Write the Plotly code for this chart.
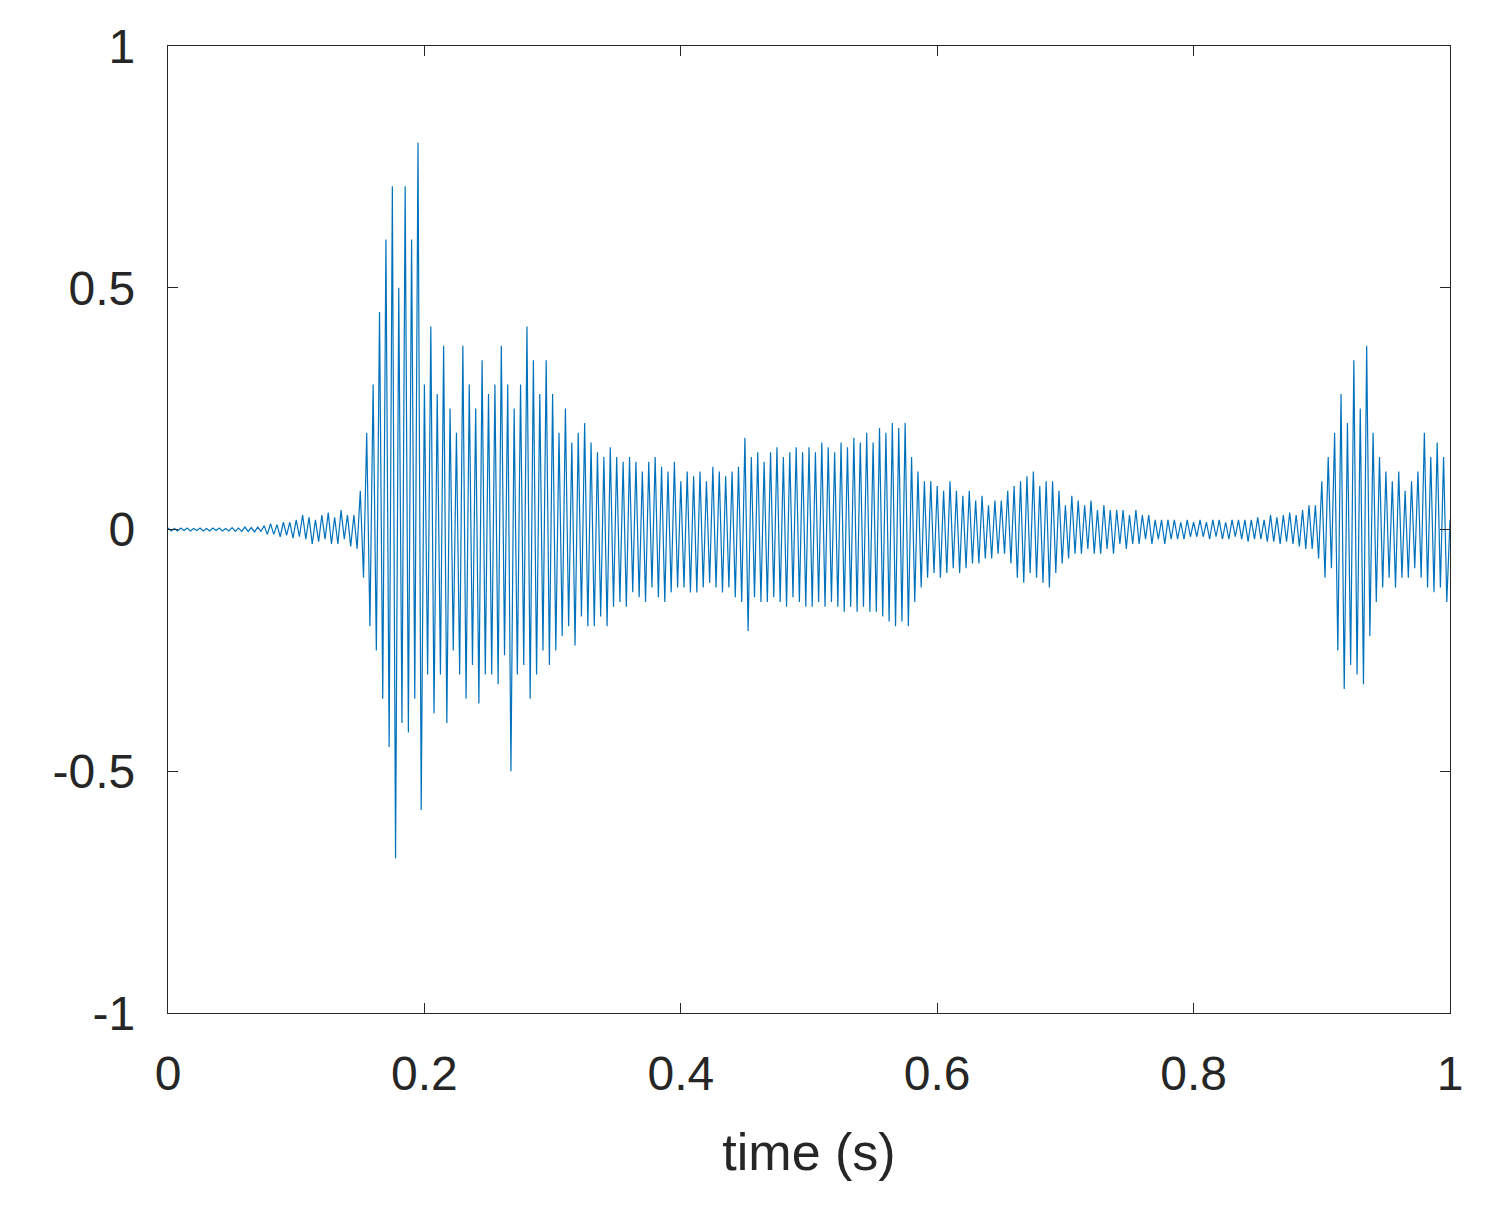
import plotly.graph_objects as go

step = 0.0025
rows = [
[0.003,-0.003,0.002,-0.003,0.003,-0.002,0.003,-0.003,0.002,-0.002,0.003,-0.003,0.002,-0.003,0.003,-0.002,0.003,-0.003,0.002,-0.003],
[0.004,-0.004,0.003,-0.004,0.005,-0.004,0.004,-0.005,0.005,-0.004,0.008,-0.01,0.012,-0.01,0.01,-0.015,0.015,-0.012,0.015,-0.018],
[0.02,-0.015,0.03,-0.02,0.025,-0.03,0.02,-0.025,0.03,-0.02,0.035,-0.03,0.025,-0.03,0.04,-0.02,0.03,-0.035,0.03,-0.04],
[0.08,-0.1,0.2,-0.2,0.3,-0.25,0.45,-0.35,0.6,-0.45,0.71,-0.68,0.5,-0.4,0.71,-0.42,0.6,-0.35,0.8,-0.58],
[0.3,-0.3,0.42,-0.38,0.28,-0.3,0.38,-0.4,0.25,-0.25,0.2,-0.3,0.38,-0.35,0.3,-0.28,0.25,-0.36,0.35,-0.3],
[0.28,-0.3,0.3,-0.32,0.38,-0.26,0.3,-0.5,0.25,-0.3,0.3,-0.28,0.42,-0.35,0.35,-0.3,0.28,-0.25,0.35,-0.28],
[0.28,-0.25,0.2,-0.22,0.25,-0.2,0.18,-0.24,0.2,-0.18,0.22,-0.2,0.18,-0.2,0.16,-0.18,0.15,-0.2,0.17,-0.16],
[0.15,-0.15,0.14,-0.16,0.15,-0.13,0.14,-0.14,0.12,-0.15,0.14,-0.12,0.15,-0.14,0.13,-0.15,0.12,-0.13,0.14,-0.12],
[0.1,-0.12,0.12,-0.13,0.11,-0.13,0.12,-0.12,0.1,-0.11,0.13,-0.12,0.12,-0.13,0.11,-0.12,0.12,-0.14,0.13,-0.15],
[0.19,-0.21,0.15,-0.14,0.16,-0.15,0.14,-0.15,0.16,-0.14,0.17,-0.15,0.15,-0.16,0.16,-0.14,0.17,-0.15,0.16,-0.16],
[0.17,-0.16,0.16,-0.15,0.18,-0.16,0.17,-0.15,0.16,-0.16,0.18,-0.17,0.17,-0.16,0.19,-0.17,0.18,-0.16,0.2,-0.17],
[0.18,-0.17,0.21,-0.18,0.2,-0.19,0.22,-0.2,0.21,-0.19,0.22,-0.2,0.15,-0.15,0.12,-0.12,0.1,-0.1,0.1,-0.09],
[0.09,-0.1,0.08,-0.09,0.1,-0.08,0.08,-0.09,0.07,-0.08,0.08,-0.07,0.06,-0.07,0.07,-0.06,0.05,-0.06,0.06,-0.05],
[0.06,-0.05,0.08,-0.07,0.09,-0.1,0.1,-0.11,0.11,-0.09,0.12,-0.1,0.09,-0.11,0.1,-0.12,0.1,-0.09,0.08,-0.07],
[0.05,-0.06,0.07,-0.05,0.06,-0.05,0.05,-0.04,0.06,-0.05,0.04,-0.05,0.05,-0.04,0.04,-0.05,0.04,-0.03,0.04,-0.04],
[0.03,-0.03,0.04,-0.03,0.03,-0.02,0.03,-0.03,0.02,-0.02,0.02,-0.03,0.02,-0.02,0.02,-0.02,0.015,-0.02,0.02,-0.015],
[0.015,-0.015,0.02,-0.015,0.015,-0.02,0.02,-0.015,0.02,-0.02,0.015,-0.02,0.02,-0.015,0.02,-0.02,0.02,-0.025,0.02,-0.02],
[0.025,-0.02,0.02,-0.025,0.03,-0.025,0.025,-0.03,0.03,-0.025,0.035,-0.03,0.03,-0.035,0.04,-0.04,0.05,-0.04,0.05,-0.06],
[0.1,-0.1,0.15,-0.08,0.2,-0.25,0.28,-0.33,0.22,-0.28,0.35,-0.3,0.25,-0.32,0.38,-0.22,0.2,-0.15,0.15,-0.12],
[0.12,-0.1,0.1,-0.12,0.12,-0.1,0.08,-0.1,0.1,-0.08,0.12,-0.1,0.2,-0.12,0.15,-0.13,0.18,-0.12,0.15,-0.15],
[0.02],
]
amplitude = [v for r in rows for v in r]
time = [i * step for i in range(len(amplitude))]

xticks = [0, 0.2, 0.4, 0.6, 0.8, 1]
yticks = [-1, -0.5, 0, 0.5, 1]

fig = go.Figure(go.Scatter(x=time, y=amplitude, mode="lines",
                           line=dict(color="#0072BD", width=1.2)))
ax = dict(showgrid=False, zeroline=False, showline=True, linecolor="#262626",
          linewidth=1.2, mirror="ticks", ticks="inside", ticklen=10,
          tickcolor="#262626", tickfont=dict(family="Liberation Sans", size=48, color="#262626"))
fig.update_xaxes(range=[0, 1], tickvals=xticks, ticktext=["0","0.2","0.4","0.6","0.8","1"],
                 ticklabelstandoff=18,
                 title=dict(text="time (s)", font=dict(family="Liberation Sans", size=52, color="#262626"), standoff=34), **ax)
fig.update_yaxes(range=[-1, 1], tickvals=yticks, ticktext=["-1","-0.5","0","0.5","1"],
                 ticklabelstandoff=22, **ax)
fig.update_layout(width=1490, height=1215, plot_bgcolor="white", paper_bgcolor="white",
                  margin=dict(l=160, r=48, t=38, b=210), showlegend=False)
fig.write_html("out.html")
